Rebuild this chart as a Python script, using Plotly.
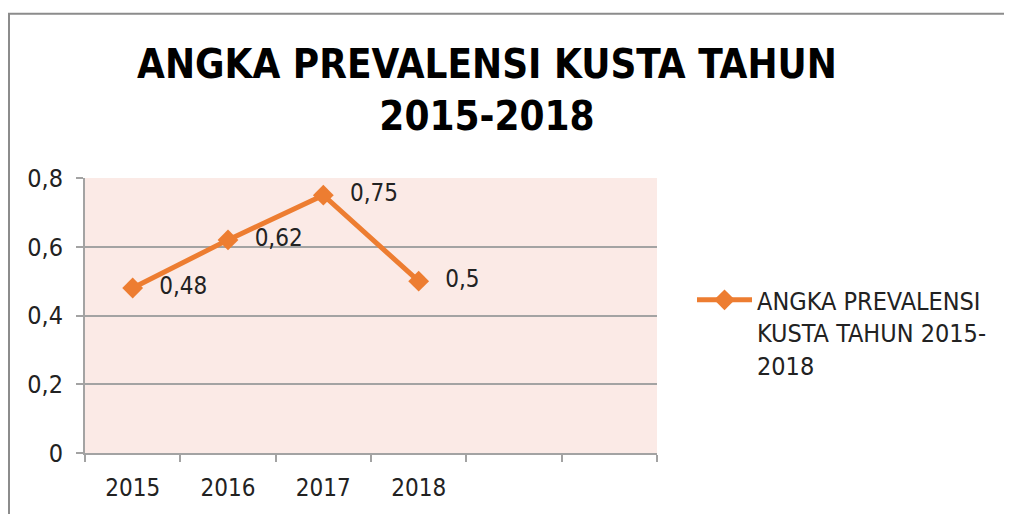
import plotly.graph_objects as go

years = ["2015", "2016", "2017", "2018"]
values = [0.48, 0.62, 0.75, 0.5]
labels = ["0,48", "0,62", "0,75", "0,5"]
series_name = "ANGKA PREVALENSI<br>KUSTA TAHUN 2015-<br>2018"
title_text = "ANGKA PREVALENSI KUSTA TAHUN<br>2015-2018"
n_slots = 6

FONT = "Liberation Sans Narrow, DejaVu Sans Condensed, sans-serif"
ORANGE = "#ED7D31"
GRID = "#A3A3A3"
TXT = "#222222"

W, H = 1004, 506
L, R, T, B = 77, 649, 170, 453  # plot area in figure px


def px(x):
    return (x - L) / (R - L)


def py(y):
    return (B - y) / (B - T)


xs = list(range(len(years)))

fig = go.Figure()
fig.add_trace(go.Scatter(
    x=xs, y=values, mode="lines+markers",
    line=dict(color=ORANGE, width=5),
    marker=dict(symbol="diamond", size=16, color=ORANGE),
    name=series_name, showlegend=True, cliponaxis=False,
))
# data labels (invisible wide markers give the label offset)
fig.add_trace(go.Scatter(
    x=xs, y=values, mode="markers+text",
    text=labels, textposition="middle right",
    textfont=dict(family=FONT, size=24, color=TXT),
    marker=dict(size=41, color="rgba(0,0,0,0)"),
    showlegend=False, hoverinfo="skip", cliponaxis=False,
))

fig.update_layout(
    width=W, height=H,
    margin=dict(l=L, r=W - R, t=T, b=H - B),
    paper_bgcolor="white",
    plot_bgcolor="#FBEAE6",
    separators=",.",
    title=dict(text=title_text, x=479 / W, xanchor="center",
               y=1 - 70 / H, yanchor="middle",
               font=dict(family=FONT, size=40, color="black", weight="bold")),
    font=dict(family=FONT, size=24, color=TXT),
    legend=dict(x=px(684), xanchor="left", y=py(272), yanchor="top",
                valign="top", font=dict(family=FONT, size=25, color=TXT),
                bgcolor="rgba(0,0,0,0)", itemwidth=55),
    showlegend=True,
)

fig.update_xaxes(
    range=[-0.5, n_slots - 0.5], tickvals=xs, ticktext=years,
    ticks="", showgrid=False, zeroline=False,
    showline=True, linecolor=GRID, linewidth=2,
    tickfont=dict(family=FONT, size=24, color=TXT),
    ticklabelstandoff=12,
    minor=dict(tickvals=[i - 0.5 for i in range(n_slots + 1)], ticks="outside",
               ticklen=7, tickcolor=GRID, tickwidth=2, showgrid=False),
)
fig.update_yaxes(
    range=[0, 0.8], dtick=0.2, tick0=0,
    showgrid=True, gridcolor=GRID, gridwidth=1.5, zeroline=False,
    showline=True, linecolor=GRID, linewidth=2,
    ticks="outside", ticklen=7, tickcolor=GRID, tickwidth=2,
    tickfont=dict(family=FONT, size=25, color=TXT),
    ticklabelstandoff=8,
)

# outer chart border
fig.add_shape(type="rect", xref="paper", yref="paper",
              x0=px(1), x1=px(998), y0=py(540), y1=py(1),
              line=dict(color="#8C8C8C", width=2), fillcolor="rgba(0,0,0,0)",
              layer="below")

fig.write_html("out.html")
